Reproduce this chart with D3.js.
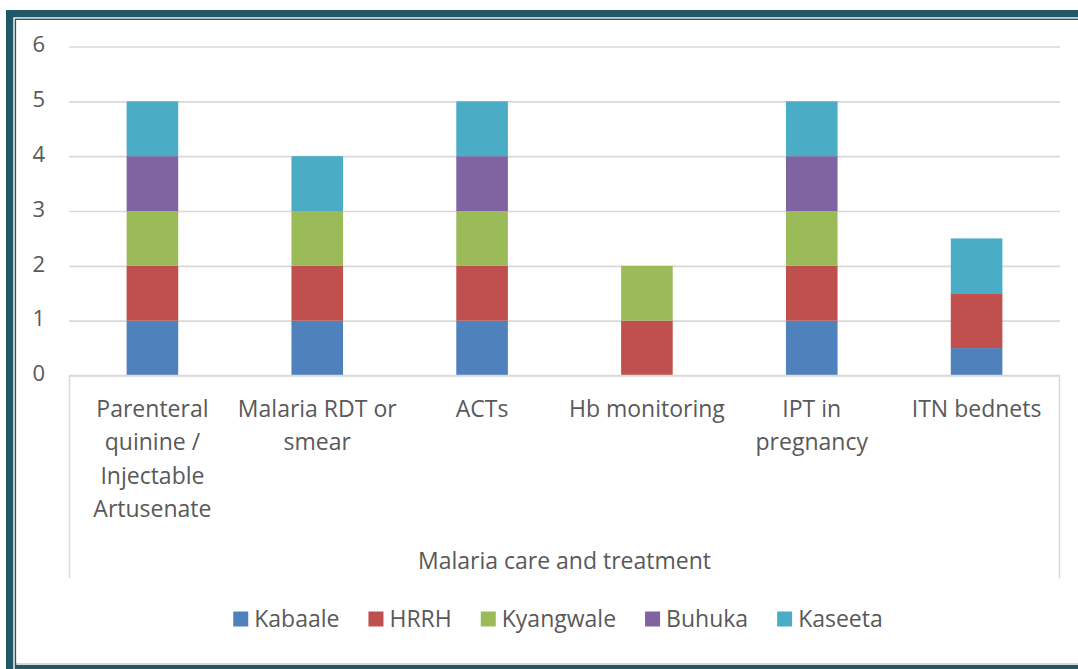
<!DOCTYPE html>
<html>
<head>
<meta charset="utf-8">
<script src="https://cdn.jsdelivr.net/npm/d3@7"></script>
<style>
  html, body { margin: 0; padding: 0; background: #ffffff; }
  svg { display: block; }
  text { font-family: "Open Sans", "Noto Sans", sans-serif; fill: #595959; }
</style>
</head>
<body>
<svg id="chart" width="1078" height="669"></svg>
<script>
// Facilities offering each malaria care / treatment service
const categories = [
  "Parenteral quinine / Injectable Artusenate",
  "Malaria RDT or smear",
  "ACTs",
  "Hb monitoring",
  "IPT in pregnancy",
  "ITN bednets"
];
const categoryLines = [
  ["Parenteral", "quinine /", "Injectable", "Artusenate"],
  ["Malaria RDT or", "smear"],
  ["ACTs"],
  ["Hb monitoring"],
  ["IPT in", "pregnancy"],
  ["ITN bednets"]
];
const groupLabel = "Malaria care and treatment";

const seriesNames = ["Kabaale", "HRRH", "Kyangwale", "Buhuka", "Kaseeta"];
const kabaale   = [1, 1, 1, 0, 1, 0.5];
const hrrh      = [1, 1, 1, 1, 1, 1];
const kyangwale = [1, 1, 1, 1, 1, 0];
const buhuka    = [1, 0, 1, 0, 1, 0];
const kaseeta   = [1, 1, 1, 0, 1, 1];
const seriesColors = ["#4F81BD", "#C0504D", "#9BBB59", "#8064A2", "#4BACC6"];

const yTicks = [0, 1, 2, 3, 4, 5, 6];

const svg = d3.select("#chart");
const W = 1078, H = 669;

// ---- frame ----
const teal = "#215868";
svg.append("rect").attr("x", 6).attr("y", 10).attr("width", W).attr("height", H).attr("fill", teal);
svg.append("rect").attr("x", 13.3).attr("y", 17.3).attr("width", W).attr("height", H).attr("fill", "#ffffff");
svg.append("rect").attr("x", 14.7).attr("y", 18.6).attr("width", W).attr("height", H).attr("fill", teal);
svg.append("rect").attr("x", 16.3).attr("y", 20).attr("width", W).attr("height", 645).attr("fill", "#d9d9d9");
svg.append("rect").attr("x", 16.3).attr("y", 20).attr("width", W).attr("height", 643).attr("fill", "#ffffff");

// ---- scales ----
const plotLeft = 70, plotRight = 1059;
const y0 = 375.5, yTop = 46.5;
const x = d3.scaleBand().domain(categories).range([plotLeft, plotRight]).padding(0);
const y = d3.scaleLinear().domain([0, 6]).range([y0, yTop]);
const barW = x.bandwidth() * 0.313;

const rows = categories.map((c, i) => ({
  category: c,
  Kabaale: kabaale[i], HRRH: hrrh[i], Kyangwale: kyangwale[i], Buhuka: buhuka[i], Kaseeta: kaseeta[i]
}));
const stacked = d3.stack().keys(seriesNames)(rows);
const color = d3.scaleOrdinal().domain(seriesNames).range(seriesColors);

// ---- gridlines ----
const gridColor = "#d9d9d9";
svg.append("g")
  .attr("transform", `translate(${plotLeft - 1},0)`)
  .call(d3.axisLeft(y).tickValues(yTicks).tickSize(-(plotRight - plotLeft + 2)).tickFormat(""))
  .call(g => g.select(".domain").remove())
  .call(g => g.selectAll("line").attr("stroke", gridColor).attr("stroke-width", 1.6));

// y tick labels
svg.append("g").selectAll("text").data(yTicks).join("text")
  .attr("x", 45)
  .attr("y", d => y(d) - 2)
  .attr("dy", "0.35em")
  .attr("text-anchor", "end")
  .attr("font-size", 22)
  .text(d => d);

// ---- bars ----
svg.append("g").selectAll("g").data(stacked).join("g")
  .attr("fill", d => color(d.key))
  .selectAll("rect").data(d => d).join("rect")
  .attr("x", d => x(d.data.category) + (x.bandwidth() - barW) / 2)
  .attr("y", d => y(d[1]))
  .attr("width", barW)
  .attr("height", d => y(d[0]) - y(d[1]));

// ---- multi-level category axis ----
const axisBottom = 578;
const ax = svg.append("g").attr("stroke", gridColor).attr("stroke-width", 1.6);
ax.append("line").attr("x1", plotLeft - 1).attr("x2", plotRight + 1).attr("y1", y0).attr("y2", y0);
ax.append("line").attr("x1", plotLeft - 0.5).attr("x2", plotLeft - 0.5).attr("y1", y0).attr("y2", axisBottom);
ax.append("line").attr("x1", plotRight + 0.5).attr("x2", plotRight + 0.5).attr("y1", y0).attr("y2", axisBottom);

const labelSize = 23;
const catG = svg.append("g");
categories.forEach((c, i) => {
  const cxp = x(c) + x.bandwidth() / 2;
  const t = catG.append("text")
    .attr("text-anchor", "middle")
    .attr("font-size", labelSize);
  categoryLines[i].forEach((line, j) => {
    t.append("tspan").attr("x", cxp).attr("y", 417 + j * 33.3).text(line);
  });
});

svg.append("text")
  .attr("x", (plotLeft + plotRight) / 2)
  .attr("y", 569)
  .attr("text-anchor", "middle")
  .attr("font-size", labelSize)
  .text(groupLabel);

// ---- legend ----
const legend = svg.append("g");
const sw = 15, gapText = 6, gapItem = 29;
const items = legend.selectAll("g").data(seriesNames).join("g");
items.append("rect").attr("width", sw).attr("height", sw).attr("y", -sw / 2).attr("fill", d => color(d));
items.append("text").attr("x", sw + gapText).attr("dy", "0.36em").attr("font-size", labelSize).text(d => d);
let cx = 0;
items.each(function () {
  d3.select(this).attr("transform", `translate(${cx},0)`);
  cx += sw + gapText + this.querySelector("text").getComputedTextLength() + gapItem;
});
const legendWidth = cx - gapItem;
legend.attr("transform", `translate(${558 - legendWidth / 2},619)`);
</script>
</body>
</html>
